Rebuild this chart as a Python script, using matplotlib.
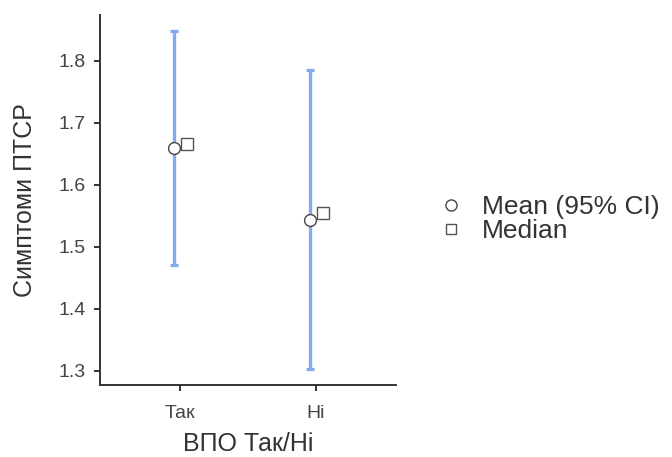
import matplotlib
matplotlib.use("Agg")
import matplotlib.pyplot as plt
from matplotlib.lines import Line2D

plt.rcParams["font.family"] = ["Liberation Sans", "DejaVu Sans"]

# дані
groups = ["Так", "Ні"]
means = [1.660, 1.544]
ci_low = [1.471, 1.303]
ci_high = [1.848, 1.785]
medians = [1.666, 1.555]
y_ticks = [1.3, 1.4, 1.5, 1.6, 1.7, 1.8]

fig = plt.figure(figsize=(6.72, 4.57), dpi=100)
ax = fig.add_axes([100 / 672, 72 / 457, 296 / 672, 370 / 457])

xs = list(range(len(groups)))
mean_x = [x - 0.047 for x in xs]
med_x = [x + 0.054 for x in xs]
err = [[m - lo for m, lo in zip(means, ci_low)],
       [hi - m for m, hi in zip(means, ci_high)]]

ax.errorbar(mean_x, means, yerr=err, fmt="none", ecolor="#83abef",
            elinewidth=2.4, capsize=2.6, capthick=2.4, zorder=1)
ax.plot(mean_x, means, "o", ms=8.5, mfc="white", mec="#444444", mew=1.0,
        ls="none", zorder=3)
ax.plot(med_x, medians, "s", ms=8, mfc="white", mec="#555555", mew=1.0,
        ls="none", zorder=3)

ax.set_xlim(-0.588, 1.588)
ax.set_ylim(1.277, 1.874)
ax.set_xticks(xs)
ax.set_xticklabels(groups)
ax.set_yticks(y_ticks)
ax.set_yticklabels([f"{v:.1f}" for v in y_ticks])

for side in ("top", "right"):
    ax.spines[side].set_visible(False)
for side in ("left", "bottom"):
    ax.spines[side].set_color("#333333")
    ax.spines[side].set_linewidth(1.4)
ax.tick_params(colors="#333333", labelcolor="#444444", labelsize=14,
               length=4.5, width=1.4)
ax.tick_params(axis="y", pad=6)
ax.tick_params(axis="x", pad=10)

ax.set_xlabel("ВПО Так/Ні", fontsize=18, color="#333333", labelpad=7)
ax.set_ylabel("Симптоми ПТСР", fontsize=18, color="#333333", labelpad=15)

handles = [
    Line2D([], [], marker="o", ls="none", ms=8, mfc="white", mec="#444444",
           label="Mean (95% CI)"),
    Line2D([], [], marker="s", ls="none", ms=7, mfc="white", mec="#555555",
           label="Median"),
]
fig.legend(handles=handles, loc="center left", bbox_to_anchor=(411 / 672, 1 - 219 / 457),
           frameon=False, fontsize=19, handletextpad=0.6, labelspacing=0.0,
           handlelength=1.2, labelcolor="#333333")

fig.savefig("out.png", dpi=100, facecolor="white")
